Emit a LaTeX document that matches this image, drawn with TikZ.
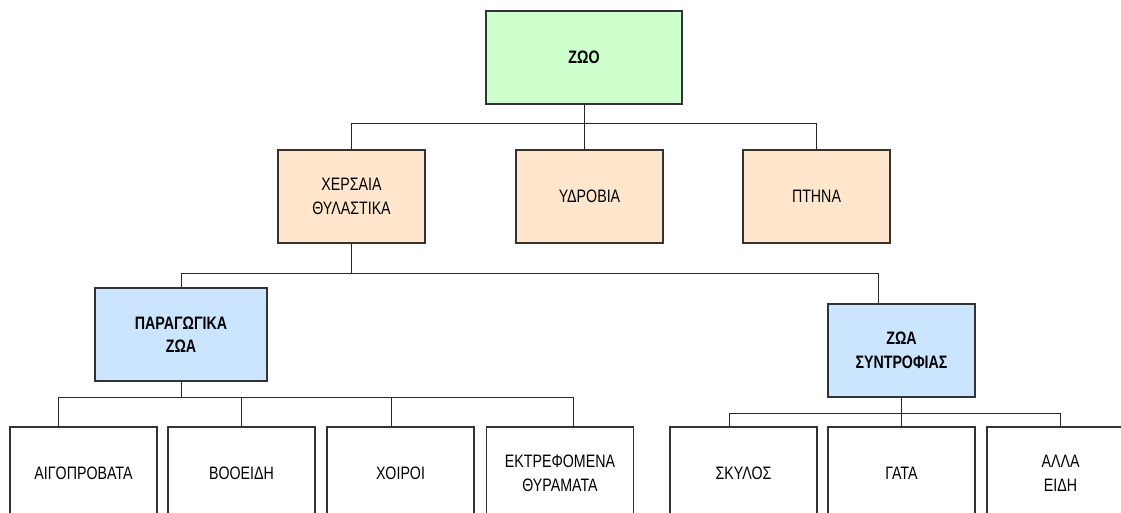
\documentclass[tikz,border=0pt]{standalone}
\usepackage{fontspec}
\setmainfont{Liberation Sans}[FakeStretch=0.79]
\definecolor{zoofill}{HTML}{CCFFCC}
\definecolor{habitatfill}{HTML}{FFE6CC}
\definecolor{groupfill}{HTML}{CCE5FF}
\definecolor{boxline}{HTML}{333333}
\begin{document}
\begin{tikzpicture}[x=1pt,y=-1pt,
  box/.style={draw=boxline, line width=1.3pt, minimum width=147pt, minimum height=93pt,
    inner sep=0pt, align=center, font=\fontsize{18}{23.5}\selectfont},
  boldbox/.style={box, font=\fontsize{18}{23.5}\selectfont\bfseries},
  link/.style={draw=black!85, line width=1pt}]
\useasboundingbox (0,0) rectangle (1121,512);
\clip (0,0) rectangle (1121,512);

% root
\node[boldbox, fill=zoofill, minimum width=196pt] (zoo) at (584,57.5) {ΖΩΟ};

% habitats
\node[box, fill=habitatfill] (xers) at (351.5,196.5) {ΧΕΡΣΑΙΑ\\ΘΥΛΑΣΤΙΚΑ};
\node[box, fill=habitatfill] (ydro) at (589.5,196.5) {ΥΔΡΟΒΙΑ};
\node[box, fill=habitatfill] (pten) at (816.5,196.5) {ΠΤΗΝΑ};

% groups of land mammals
\node[boldbox, fill=groupfill, minimum width=172pt] (parag) at (181,334.5) {ΠΑΡΑΓΩΓΙΚΑ\\ΖΩΑ};
\node[boldbox, fill=groupfill] (zsyn) at (901.5,350.5) {ΖΩΑ\\ΣΥΝΤΡΟΦΙΑΣ};

% leaves
\node[box] (aigo) at (83.5,473.5) {ΑΙΓΟΠΡΟΒΑΤΑ};
\node[box] (boo)  at (241.5,473.5) {ΒΟΟΕΙΔΗ};
\node[box] (xoi)  at (400.5,473.5) {ΧΟΙΡΟΙ};
\node[box] (ektr) at (560,473.5) {ΕΚΤΡΕΦΟΜΕΝΑ\\ΘΥΡΑΜΑΤΑ};
\node[box] (skyl) at (743.5,473.5) {ΣΚΥΛΟΣ};
\node[box] (gata) at (901.5,473.5) {ΓΑΤΑ};
\node[box] (alla) at (1060.5,473.5) {ΑΛΛΑ\\ΕΙΔΗ};

% connectors
\draw[link] (zoo.south) -- ++(0,19) -| (xers.north);
\draw[link] (zoo.south) -- (zoo.south |- ydro.north);
\draw[link] (zoo.south) -- ++(0,19) -| (pten.north);

\draw[link] (xers.south) -- ++(0,30) -| (parag.north);
\draw[link] (xers.south) -- ++(0,30) -| ([xshift=-23.5pt]zsyn.north);

\draw[link] (parag.south) -- ++(0,15.5) -| ([xshift=-25.5pt]aigo.north);
\draw[link] (parag.south) -- ++(0,15.5) -| (boo.north);
\draw[link] (parag.south) -- ++(0,15.5) -| ([xshift=-9.5pt]xoi.north);
\draw[link] (parag.south) -- ++(0,15.5) -| ([xshift=13pt]ektr.north);

\draw[link] (zsyn.south) -- ++(0,16) -| ([xshift=-14.5pt]skyl.north);
\draw[link] (zsyn.south) -- (gata.north);
\draw[link] (zsyn.south) -- ++(0,16) -| (alla.north);
\end{tikzpicture}
\end{document}
